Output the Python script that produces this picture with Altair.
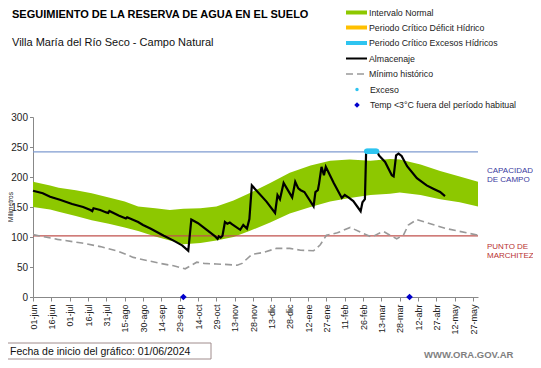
import altair as alt
import pandas as pd

# ---------------- data (day 0 = 01/06/2024) ----------------
band_day = [0, 14, 21, 35, 48, 62, 75, 86, 100, 112, 123, 137, 150, 164, 177, 194,
            210, 227, 243, 259, 276, 292, 300, 317, 333, 349, 364]
band_low = [150, 146, 142, 135, 128, 122, 116, 110, 101, 94, 88, 90, 94, 100, 110, 124,
            139, 150, 159, 165, 170, 172, 174, 170, 163, 158, 151]
band_high = [192, 186, 182, 178, 173, 166, 159, 151, 148, 145, 147, 148, 151, 161, 173, 190,
             207, 219, 227, 229, 227, 230, 229, 221, 210, 201, 192]

alm_day = [0, 8, 14, 22, 32, 41, 47, 48.5, 49.5, 55, 60, 61.5, 62.5, 70, 76, 77, 86, 90, 96,
           107, 115, 122, 127, 129.5, 135, 149, 151, 152, 153.5, 155, 157, 159, 161, 163,
           169.5, 172, 175, 177, 179, 191, 198, 200, 202, 205, 212, 214.5, 217, 219, 222,
           229.5, 231, 233, 234, 236, 238, 239.5, 246, 252.6, 255, 258, 262, 268, 269.5,
           271.5, 272.5, 281.5, 283, 288, 293.5, 295, 297, 299, 301.5, 306, 314, 322, 327,
           330, 333, 337]
alm_val = [177, 173, 167, 162, 155, 150, 145, 143, 148, 145, 141, 140, 143.5, 136, 131, 133,
           125, 120, 114, 102, 94, 86, 77, 129, 123, 101, 97, 101, 99, 102, 125, 122, 124, 121,
           112, 120, 114, 130, 186, 159, 140, 170, 163, 190, 166, 192, 181, 178, 175, 151, 175,
           178, 189, 217, 203, 217, 190, 165, 170, 166, 160, 143, 158, 163, 243, 243, 236, 225,
           203, 201, 236, 239, 235, 218, 198, 186, 181, 178, 175, 168]

min_day = [0, 20, 40, 55, 70, 82, 95, 104, 115, 124.5, 134, 140, 150, 160, 167, 171, 179, 188,
           199, 210, 219, 229.5, 235, 240, 249, 259.5, 270, 277, 284, 287, 292, 297.5, 303,
           307, 314, 322, 338, 357, 364]
min_val = [104, 96, 90, 84, 76, 66, 60, 56, 52, 47, 58, 56, 55, 54, 53, 56, 71, 74, 81, 81,
           78, 77, 87, 103, 107, 116, 106, 100, 107, 109, 103, 97, 103, 120, 129, 124, 114,
           106, 103]

exceso_day = [273, 274, 275, 276, 277, 278, 279, 280, 281]
exceso_val = [243, 243, 243, 243, 243, 243, 243, 243, 243]

frio_day = [123, 308]
frio_val = [0, 0]

capacidad = 242
marchitez = 102

tick_days = list(range(0, 361, 15))
meses = ['ene', 'feb', 'mar', 'abr', 'may', 'jun', 'jul', 'ago', 'sep', 'oct', 'nov', 'dic']

titulo = "SEGUIMIENTO DE LA RESERVA DE AGUA  EN EL SUELO"
subtitulo = "Villa María del Río Seco - Campo Natural"
leyenda = ["Intervalo Normal", "Periodo Crítico Déficit Hídrico", "Periodo Crítico Excesos Hídricos",
           "Almacenaje", "Mínimo histórico", "Exceso", "Temp <3°C fuera del período habitual"]
fecha_txt = "Fecha de inicio del gráfico:  01/06/2024"
web_txt = "WWW.ORA.GOV.AR"

# ---------------- styles ----------------
FONT = "Liberation Sans"
GREEN = "#8dc800"
ORANGE = "#ffc000"
CYAN = "#2ec4f0"
BLUE_LINE = "#7f9bd0"
RED_LINE = "#c0504d"
GRAY = "#999999"
DIAMOND = "#0000cc"

W, H = 445, 180
xs = alt.Scale(domain=[0, 364], nice=False, zero=False)
ys = alt.Scale(domain=[0, 300], nice=False)

mes_arr = "[" + ",".join("'%s'" % m for m in meses) + "]"
label_expr = ("timeFormat(datetime(2024, 5, 1 + datum.value), '%d') + '-' + "
              + mes_arr + "[month(datetime(2024, 5, 1 + datum.value))]")

xaxis = alt.Axis(values=tick_days, labelExpr=label_expr, labelAngle=270, labelFontSize=9,
                 labelFont=FONT, labelColor="#222222", tickSize=4, tickColor="#888888",
                 domainColor="#888888", labelPadding=3, title=None, grid=False,
                 labelOverlap=False, labelFlush=False)
yaxis = alt.Axis(values=[0, 50, 100, 150, 200, 250, 300], labelFontSize=10, labelFont=FONT,
                 labelColor="#222222", tickSize=3.5, tickColor="#888888", domainColor="#888888",
                 title=None, grid=False, labelPadding=2)


def X(field):
    return alt.X(field, scale=xs, axis=xaxis)


def Y(field):
    return alt.Y(field, scale=ys, axis=yaxis)


band_df = pd.DataFrame({"day": band_day, "low": band_low, "high": band_high})
alm_df = pd.DataFrame({"day": alm_day, "val": alm_val})
min_df = pd.DataFrame({"day": min_day, "val": min_val})
exc_df = pd.DataFrame({"day": exceso_day, "val": exceso_val})
frio_df = pd.DataFrame({"day": frio_day, "val": frio_val})

area = alt.Chart(band_df).mark_area(color=GREEN, opacity=1).encode(
    x=X("day:Q"), y=Y("low:Q"), y2="high:Q")

cap_rule = alt.Chart(pd.DataFrame({"v": [capacidad]})).mark_rule(color=BLUE_LINE, strokeWidth=1.2).encode(
    y=Y("v:Q"))
mar_rule = alt.Chart(pd.DataFrame({"v": [marchitez]})).mark_rule(color=RED_LINE, strokeWidth=1.2).encode(
    y=Y("v:Q"))

minimo = alt.Chart(min_df).mark_line(color=GRAY, strokeWidth=1.6, strokeDash=[7, 4]).encode(
    x=X("day:Q"), y=Y("val:Q"))

alm = alt.Chart(alm_df).mark_line(color="#000000", strokeWidth=2.2).encode(
    x=X("day:Q"), y=Y("val:Q"))

exc = alt.Chart(exc_df).mark_circle(color=CYAN, size=30, opacity=1).encode(
    x=X("day:Q"), y=Y("val:Q"))

frio = alt.Chart(frio_df).mark_point(shape="diamond", filled=True, color=DIAMOND, size=45, opacity=1).encode(
    x=X("day:Q"), y=Y("val:Q"))

one = pd.DataFrame({"a": [0]})
OX, OY = 33, 117  # plot origin in page coordinates (used to place annotations)


def txt(text, px, py, size=9, color="#222222", weight="normal", align="left", angle=0, font=FONT,
        baseline="middle"):
    kw = dict(text=text, fontSize=size, color=color, fontWeight=weight, align=align,
              baseline=baseline, font=font)
    if angle:
        kw["angle"] = angle
    return alt.Chart(one).mark_text(**kw).encode(x=alt.value(px - OX), y=alt.value(py - OY))


def hline(px1, px2, py, color, width, dash=None):
    kw = dict(color=color, strokeWidth=width)
    if dash:
        kw["strokeDash"] = dash
    return alt.Chart(one).mark_rule(**kw).encode(
        x=alt.value(px1 - OX), x2=alt.value(px2 - OX), y=alt.value(py - OY))


layers = [area, cap_rule, mar_rule, minimo, alm, exc, frio]

# titles
layers.append(txt(titulo, 12, 18, size=11, color="#000000", weight="bold", baseline="alphabetic"))
layers.append(txt(subtitulo, 12, 46, size=11, color="#111111", baseline="alphabetic"))
layers.append(txt("Milímetros", 10.5, 207, size=6.5, color="#222222", align="center", angle=270))

# legend
rows = [12.5, 27.5, 43, 58.5, 74, 89.5, 105]
sx1, sx2, tx = 346, 367, 369
layers.append(hline(sx1, sx2, rows[0], GREEN, 4))
layers.append(hline(sx1, sx2, rows[1], ORANGE, 4))
layers.append(hline(sx1, sx2, rows[2], CYAN, 4))
layers.append(hline(sx1, sx2, rows[3], "#000000", 2))
layers.append(hline(sx1, sx2, rows[4], GRAY, 1.6, dash=[7, 4]))
layers.append(alt.Chart(one).mark_circle(color=CYAN, size=12, opacity=1).encode(
    x=alt.value(357 - OX), y=alt.value(rows[5] - OY)))
layers.append(alt.Chart(one).mark_point(shape="diamond", filled=True, color=DIAMOND, size=30, opacity=1).encode(
    x=alt.value(357 - OX), y=alt.value(rows[6] - OY)))
for i, lab in enumerate(leyenda):
    x0 = tx if i < 5 else 370
    layers.append(txt(lab, x0, rows[i], size=8.8, color="#222222"))

# right annotations
layers.append(txt("CAPACIDAD", 487, 171, size=8, color="#3b3ba0"))
layers.append(txt("DE  CAMPO", 487, 180, size=8, color="#3b3ba0"))
layers.append(txt("PUNTO  DE", 487, 247, size=8, color="#b83232"))
layers.append(txt("MARCHITEZ", 487, 256, size=8, color="#b83232"))

# footer
layers.append(alt.Chart(one).mark_rect(fill="#ffffff", stroke="#a08c8c", strokeWidth=1).encode(
    x=alt.value(4 - OX), x2=alt.value(211 - OX), y=alt.value(343 - OY), y2=alt.value(359 - OY)))
layers.append(txt(fecha_txt, 10, 351.5, size=10.5, color="#111111"))
layers.append(txt(web_txt, 424, 355, size=9.5, color="#7f7f7f", weight="bold"))

chart = alt.layer(*layers).properties(
    width=W, height=H,
    padding={"left": 25, "top": 109, "right": 55, "bottom": 63},
    autosize=alt.AutoSizeParams(type="none"),
).configure_view(stroke=None)

chart.save("out.html", embed_options={"renderer": "svg", "actions": False})
